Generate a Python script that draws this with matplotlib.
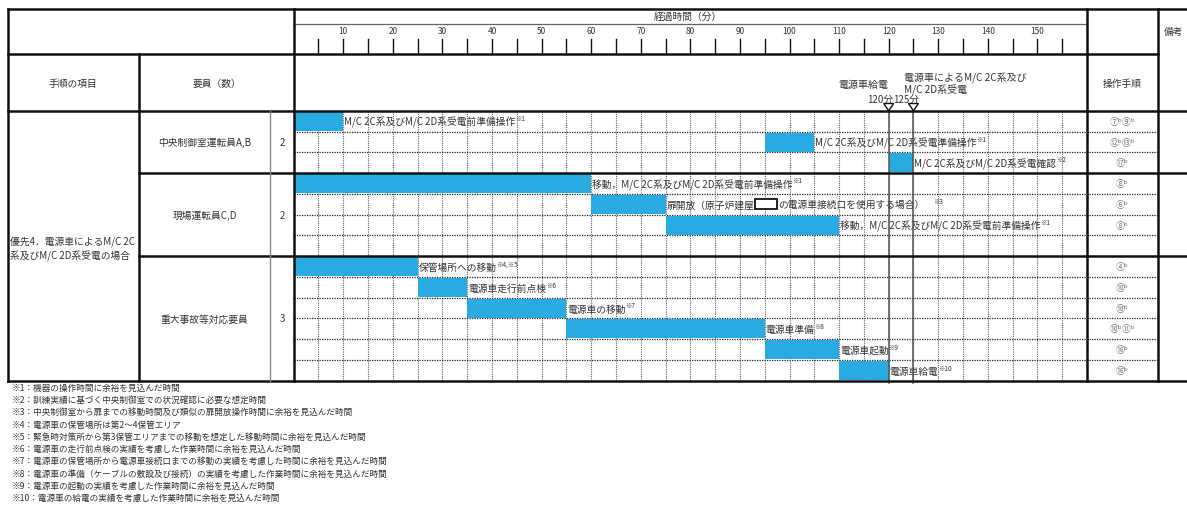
import matplotlib
matplotlib.use('Agg')
import matplotlib.pyplot as plt
from matplotlib.lines import Line2D
from matplotlib.patches import Rectangle, Polygon

plt.rcParams['font.family'] = ['Noto Sans CJK JP', 'DejaVu Sans']

# ---------------- data ----------------
groups = ["中央制御室運転員A,B", "現場運転員C,D", "重大事故等対応要員"]
group_counts = ["2", "2", "3"]
group_rows = [3, 4, 6]
scenario = "優先4．電源車によるM/C 2C\n系及びM/C 2D系受電の場合"

task_start = [0, 95, 120, 0, 60, 75, None, 0, 25, 35, 55, 95, 110]
task_end = [10, 105, 125, 60, 75, 110, None, 25, 35, 55, 95, 110, 120]
task_label = ["M/C 2C系及びM/C 2D系受電前準備操作",
              "M/C 2C系及びM/C 2D系受電準備操作",
              "M/C 2C系及びM/C 2D系受電確認",
              "移動，M/C 2C系及びM/C 2D系受電前準備操作",
              "扉開放（原子炉建屋",
              "移動，M/C 2C系及びM/C 2D系受電前準備操作",
              "",
              "保管場所への移動",
              "電源車走行前点検",
              "電源車の移動",
              "電源車準備",
              "電源車起動",
              "電源車給電"]
task_label_tail = "の電源車接続口を使用する場合）"
task_note = ["※1", "※1", "※2", "※1", "※3", "※1", "", "※4,※5",
             "※6", "※7", "※8", "※9", "※10"]
procedures = ["⑦ᵇ⑨ᵇ", "⑫ᵇ⑬ᵇ", "⑰ᵇ", "⑧ᵇ", "⑥ᵇ", "⑧ᵇ", "",
              "④ᵇ", "⑩ᵇ", "⑩ᵇ", "⑩ᵇ⑪ᵇ", "⑯ᵇ", "⑯ᵇ"]

tick_minor = list(range(5, 160, 5))
tick_labels = list(range(10, 160, 10))
milestones = [120, 125]
milestone_labels = ["120分", "125分"]

footnotes = [
    "※1：機器の操作時間に余裕を見込んだ時間",
    "※2：訓練実績に基づく中央制御室での状況確認に必要な想定時間",
    "※3：中央制御室から扉までの移動時間及び類似の扉開放操作時間に余裕を見込んだ時間",
    "※4：電源車の保管場所は第2～4保管エリア",
    "※5：緊急時対策所から第3保管エリアまでの移動を想定した移動時間に余裕を見込んだ時間",
    "※6：電源車の走行前点検の実績を考慮した作業時間に余裕を見込んだ時間",
    "※7：電源車の保管場所から電源車接続口までの移動の実績を考慮した時間に余裕を見込んだ時間",
    "※8：電源車の準備（ケーブルの敷設及び接続）の実績を考慮した作業時間に余裕を見込んだ時間",
    "※9：電源車の起動の実績を考慮した作業時間に余裕を見込んだ時間",
    "※10：電源車の給電の実績を考慮した作業時間に余裕を見込んだ時間",
]

# ---------------- layout ----------------
W, H = 1187, 506
fig = plt.figure(figsize=(W / 100, H / 100), dpi=100)
fig.patch.set_facecolor('white')

def fx(x):
    return x / W

def fy(y):
    return 1 - y / H

BLUE = '#29abe2'
TXT = '#333333'
X0, X1 = 293.7, 1087.0      # gantt area
XP, XR = 1158.0, 1187.0     # procedure col right, table right
XL, XC2, XN = 8.0, 139.0, 270.0
YT, YH1, YH2, YB = 10.0, 55.0, 112.0, 381.7
NROWS = sum(group_rows)
RH = (YB - YH2) / NROWS
SUP = dict(fontsize=4.6, color=TXT, ha='left', va='top', textcoords='offset points')

def hline(y, x1, x2, lw=1.8, color='#111111', ls='-'):
    fig.add_artist(Line2D([fx(x1), fx(x2)], [fy(y), fy(y)], transform=fig.transFigure,
                          color=color, lw=lw, ls=ls, zorder=10))

def vline(x, y1, y2, lw=1.8, color='#111111', ls='-'):
    fig.add_artist(Line2D([fx(x), fx(x)], [fy(y1), fy(y2)], transform=fig.transFigure,
                          color=color, lw=lw, ls=ls, zorder=10))

# gantt axes
ax = fig.add_axes([fx(X0), fy(YB), fx(X1) - fx(X0), fy(YH2) - fy(YB)])
ax.set_xlim(0, 160)
ax.set_ylim(NROWS, 0)
ax.axis('off')

# header axes
hx = fig.add_axes([fx(X0), fy(YH2), fx(X1) - fx(X0), fy(YT) - fy(YH2)])
hx.set_xlim(0, 160)
hx.set_ylim(YH2, YT)
hx.axis('off')

# vertical grid
for t in tick_minor:
    ax.axvline(t, color='#666666', lw=0.8, ls=(0, (1, 1)), zorder=1)

# row lines (dotted) incl. procedure column
bounds = [0]
for n in group_rows:
    bounds.append(bounds[-1] + n)
for r in range(1, NROWS):
    if r in bounds:
        continue
    ax.axhline(r, xmin=0, xmax=(XP - X0) / (X1 - X0), color='#222222', lw=0.9,
               ls=(0, (1, 1)), clip_on=False, zorder=2)

# bars and labels
for r in range(NROWS):
    s, e = task_start[r], task_end[r]
    if s is None:
        continue
    ax.barh(r + 0.5, e - s, left=s, height=0.92, color=BLUE, zorder=3)
    if r == 4:
        continue
    t = ax.text(e + 0.2, r + 0.52, task_label[r], ha='left', va='center',
                fontsize=7, color=TXT, zorder=4)
    ax.annotate(task_note[r], xy=(1, 1), xycoords=t, xytext=(-0.4, 1.6),
                zorder=4, **SUP)

# row 4 special label with masked box
r = 4
t1 = ax.text(task_end[r] + 0.2, r + 0.52, task_label[r], ha='left', va='center',
             fontsize=7, color=TXT, zorder=4)
renderer = fig.canvas.get_renderer()
bb = t1.get_window_extent(renderer)
row_cy = H - (YH2 + (r + 0.5) * RH)
bx0 = bb.x1 + 1.0
bw, bh = 22.0, 9.5
fig.add_artist(Rectangle((bx0 / W, (row_cy - bh / 2 + 0.5) / H), bw / W, bh / H,
                         transform=fig.transFigure, fc='white', ec='#111111', lw=1.3,
                         zorder=6))
t2 = fig.text((bx0 + bw + 1.0) / W, (row_cy + 0.4) / H, task_label_tail,
              ha='left', va='center', fontsize=7, color=TXT, zorder=6)
ann = plt.Annotation(task_note[r], xy=(1, 1), xycoords=t2, xytext=(6, 1.6), zorder=6,
                     annotation_clip=False, **SUP)
fig.add_artist(ann)

# milestone lines and triangles
for m in milestones:
    ax.axvline(m, ymin=-0.008, ymax=1.0, color='#555555', lw=1.1, zorder=8, clip_on=False)
    hx.add_patch(Polygon([(m - 1.0, 104.5), (m + 1.0, 104.5), (m, 111.8)], closed=True,
                         fc='white', ec='#111111', lw=1.0, zorder=5, clip_on=False))
    hx.plot([m, m], [111.8, YH2], color='#555555', lw=1.1, clip_on=False)
hx.text(milestones[0] + 0.9, 100.3, milestone_labels[0], ha='right', va='center',
        fontsize=7, color=TXT)
hx.text(milestones[0] + 0.9, 100.3, milestone_labels[1], ha='left', va='center',
        fontsize=7, color=TXT)
hx.text(milestones[0], 85, "電源車給電", ha='right', va='center', fontsize=7.2, color=TXT)
hx.text(milestones[0] + 3.0, 77.5, "電源車によるM/C 2C系及び", ha='left', va='center',
        fontsize=7.2, color=TXT)
hx.text(milestones[0] + 3.0, 90, "M/C 2D系受電", ha='left', va='center',
        fontsize=7.2, color=TXT)

# time ticks
for t in tick_minor:
    hx.plot([t, t], [40, YH1], color='#111111', lw=1.0, clip_on=False)
for t in tick_labels:
    hx.text(t, 32, str(t), ha='center', va='center', fontsize=6, color=TXT)
hx.plot([0, 160], [24.5, 24.5], color='#666666', lw=0.9, clip_on=False)
fig.text(fx(688), fy(17), "経過時間（分）", ha='center', va='center', fontsize=7, color=TXT)

# header texts
fig.text(fx(73), fy(84), "手順の項目", ha='center', va='center', fontsize=7, color=TXT)
fig.text(fx(216.5), fy(84), "要員（数）", ha='center', va='center', fontsize=7, color=TXT)
fig.text(fx((X1 + XP) / 2), fy(84), "操作手順", ha='center', va='center', fontsize=7, color=TXT)
fig.text(fx(1174), fy(32), "備考", ha='center', va='center', fontsize=7, color=TXT)

# left column texts
fig.text(fx(10.5), fy(249), scenario, ha='left', va='center', fontsize=7, color=TXT,
         linespacing=1.35)
for g, (name, cnt) in enumerate(zip(groups, group_counts)):
    yc = YH2 + (bounds[g] + group_rows[g] / 2) * RH
    fig.text(fx(204.5), fy(yc), name, ha='center', va='center', fontsize=7, color=TXT)
    fig.text(fx(282), fy(yc), cnt, ha='center', va='center', fontsize=7, color=TXT)

# procedure column
for r in range(NROWS):
    if procedures[r]:
        yc = YH2 + (r + 0.5) * RH
        fig.text(fx((X1 + XP) / 2), fy(yc), procedures[r], ha='center', va='center',
                 fontsize=6.5, color='#777777')

# table lines
hline(YT, XL, XR)
hline(YH1, XL, XP)
hline(YH2, XL, XR)
hline(YB, XL, XR)
for b in bounds[1:-1]:
    hline(YH2 + b * RH, XC2, XR)
vline(XL, YT, YB)
vline(XC2, YH1, YB)
vline(XN, YH2, YB, lw=1.0, color='#888888')
vline(X0, YT, YB)
vline(X1, YT, YB)
vline(XP, YT, YB)

# footnotes
for i, line in enumerate(footnotes):
    fig.text(fx(12), fy(388.5 + i * 12.2), line, ha='left', va='center',
             fontsize=6.2, color=TXT)

fig.savefig('out.png', dpi=100, facecolor='white')
